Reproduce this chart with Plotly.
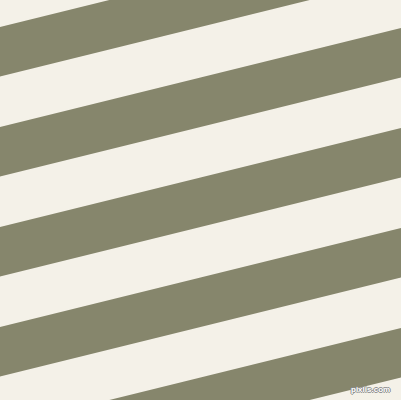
import plotly.graph_objects as go

# stripe data (y where each olive stripe starts at the left edge, in px)
stripe_starts = [-73, 27, 127, 227, 327, 427]
stripe_width = 49.5
stripe_slope = -0.247  # y change per px going right
canvas_w = 401
canvas_h = 400

olive = "#86866c"
cream = "#f4f1e8"

fig = go.Figure()

for b in stripe_starts:
    xs = [0, canvas_w, canvas_w, 0, 0]
    ys = [b, b + stripe_slope * canvas_w,
          b + stripe_width + stripe_slope * canvas_w, b + stripe_width, b]
    fig.add_trace(go.Scatter(
        x=xs, y=ys, mode="lines", fill="toself",
        fillcolor=olive, line=dict(width=0, color=olive),
        hoverinfo="skip", showlegend=False
    ))

# watermark
fig.add_annotation(
    x=370.5, y=389, text="pixlis.com", showarrow=False,
    font=dict(family="Liberation Sans", size=8, color="#ffffff",
              weight="bold",
              shadow="1px 0 0 #8a8a8a, -1px 0 0 #8a8a8a, 0 1px 0 #8a8a8a, 0 -1px 0 #8a8a8a"),
    xref="x", yref="y"
)

fig.update_layout(
    width=canvas_w, height=canvas_h,
    margin=dict(l=0, r=0, t=0, b=0),
    paper_bgcolor=cream, plot_bgcolor=cream,
    xaxis=dict(range=[0, canvas_w], visible=False, fixedrange=True),
    yaxis=dict(range=[canvas_h, 0], visible=False, fixedrange=True),
    showlegend=False
)

fig.write_html(
    "out.html",
    config={"displayModeBar": False, "staticPlot": True},
    post_script="document.body.style.margin='0';document.body.style.background='%s';" % cream,
)
